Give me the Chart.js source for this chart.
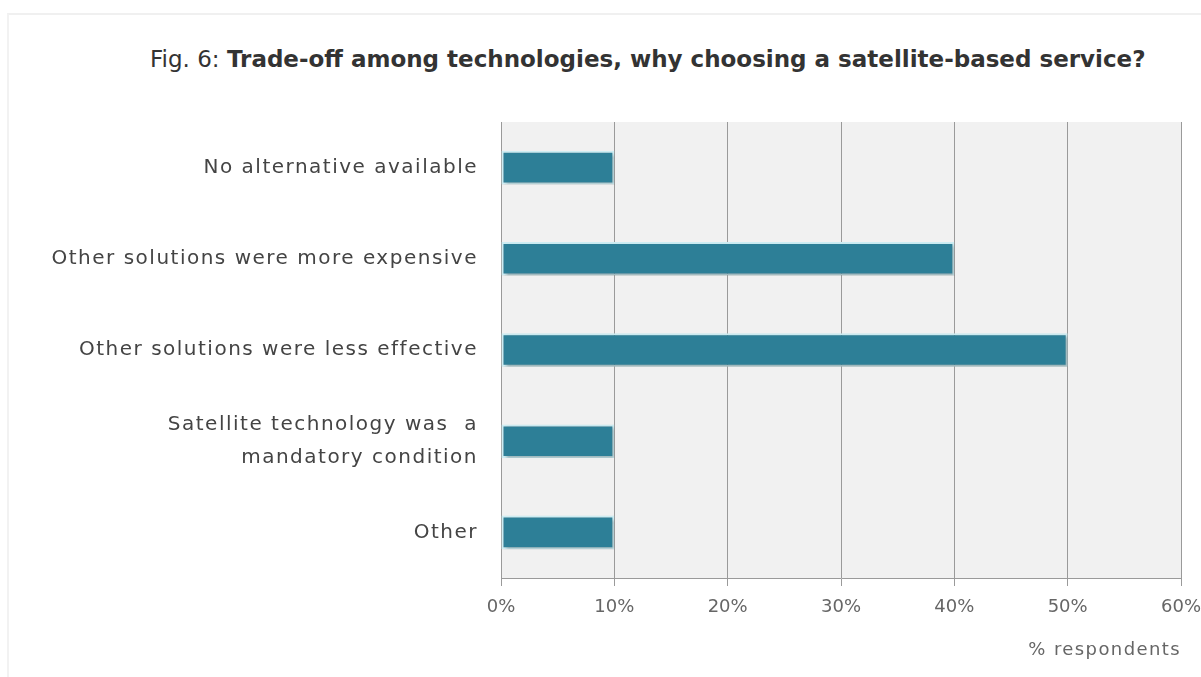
<!DOCTYPE html>
<html><head><meta charset="utf-8">
<script src="https://cdn.jsdelivr.net/npm/chart.js@4.4.0/dist/chart.umd.min.js"></script>
<style>
html,body{margin:0;padding:0;background:#fff;}
#wrap{position:relative;width:1201px;height:677px;overflow:hidden;}
#frame{position:absolute;left:7px;top:13px;width:1300px;height:700px;border-top:2px solid #f0f0f0;border-left:2px solid #f2f2f2;}
#title{position:absolute;left:150px;top:46px;font-family:"DejaVu Sans";font-size:23px;color:#333;white-space:nowrap;}
#title b{font-weight:bold;}
canvas{position:absolute;left:0;top:0;}
</style></head>
<body><div id="wrap"><div id="frame"></div>
<div id="title">Fig. 6: <b>Trade-off among technologies, why choosing a satellite-based service?</b></div>
<canvas id="c" width="1201" height="677"></canvas></div>
<script>
const categories = [
  "No alternative available",
  "Other solutions were more expensive",
  "Other solutions were less effective",
  ["Satellite technology was  a", "mandatory condition"],
  "Other"
];
const values = [10, 40, 50, 10, 10];
const tickValues = [0, 10, 20, 30, 40, 50, 60];
const axisTitle = "% respondents";

const FONT = '"DejaVu Sans"';

function patch(scale, method, spacing) {
  const key = '_ls_' + method;
  if (scale[key]) return;
  const orig = scale[method];
  scale[method] = function (area) {
    const c = this.ctx; c.save(); c.letterSpacing = spacing;
    orig.call(this, area); c.restore();
  };
  scale[key] = true;
}

const bgPlugin = {
  id: 'bg',
  beforeDraw(chart) {
    const {ctx, chartArea: a} = chart;
    ctx.save();
    ctx.fillStyle = '#f1f1f1';
    ctx.fillRect(a.left, a.top, a.right - a.left, a.bottom - a.top);
    ctx.restore();
    patch(chart.scales.y, 'drawLabels', '1.5px');
    patch(chart.scales.x, 'drawTitle', '1.4px');
  }
};
const shadowPlugin = {
  id: 'shadow',
  beforeDatasetsDraw(chart) {
    const ctx = chart.ctx;
    ctx.save();
    ctx.shadowColor = 'rgba(0,0,0,0.28)';
    ctx.shadowOffsetX = 2;
    ctx.shadowOffsetY = 2;
    ctx.shadowBlur = 3;
  },
  afterDatasetsDraw(chart) { chart.ctx.restore(); }
};

new Chart(document.getElementById('c'), {
  type: 'bar',
  data: {
    labels: categories,
    datasets: [{
      data: values,
      backgroundColor: '#2d7f97',
      borderColor: '#cdedf3',
      borderWidth: 2,
      borderSkipped: false,
      barPercentage: 0.92,
      categoryPercentage: 0.4
    }]
  },
  options: {
    indexAxis: 'y',
    responsive: false,
    animation: false,
    layout: {padding: {left: 0, right: 20, top: 122, bottom: 0}},
    plugins: {legend: {display: false}, tooltip: {enabled: false}},
    scales: {
      x: {
        min: 0, max: 60,
        afterBuildTicks(s) { s.ticks = tickValues.map(v => ({value: v})); },
        afterFit(s) { s.height = 99; s.paddingRight = 0; s.paddingLeft = 0; },
        grid: {color: '#9a9a9a', lineWidth: 1, tickLength: 8, drawOnChartArea: true},
        border: {color: '#9a9a9a'},
        ticks: {
          callback: v => v + '%',
          color: '#666',
          padding: 11,
          maxRotation: 0,
          font: {family: FONT, size: 18}
        },
        title: {
          display: true, text: axisTitle, align: 'end',
          color: '#666', font: {family: FONT, size: 18},
          padding: {top: 0, bottom: 16}
        }
      },
      y: {
        afterFit(s) { s.width = 501; s.paddingTop = 0; s.paddingBottom = 0; },
        grid: {display: false, drawTicks: false},
        border: {display: true, color: '#9a9a9a'},
        ticks: {
          color: '#444',
          padding: 23,
          font: {family: FONT, size: 20, lineHeight: 1.65}
        }
      }
    }
  },
  plugins: [bgPlugin, shadowPlugin]
});
</script></body></html>
